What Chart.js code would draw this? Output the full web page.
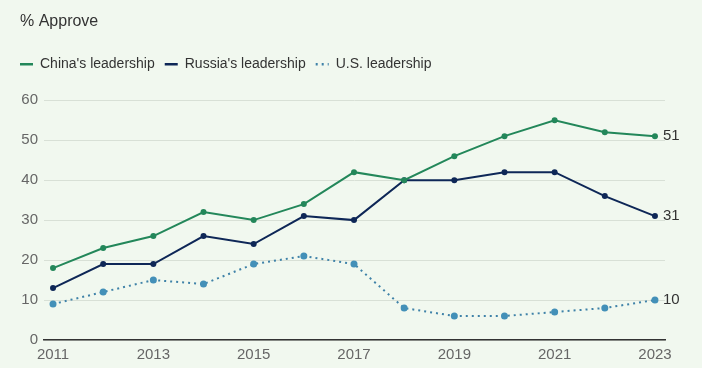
<!DOCTYPE html>
<html>
<head>
<meta charset="utf-8">
<script src="https://cdn.jsdelivr.net/npm/chart.js@4"></script>
<style>
  html, body { margin: 0; padding: 0; background: #f1f8ef; }
  #wrap { width: 702px; height: 368px; }
</style>
</head>
<body>
<div id="wrap"><canvas id="chart" width="702" height="368"></canvas></div>
<script>
const years = [2011, 2012, 2013, 2014, 2015, 2016, 2017, 2018, 2019, 2020, 2021, 2022, 2023];
const tickYears = [2011, 2013, 2015, 2017, 2019, 2021, 2023];
const china = [18, 23, 26, 32, 30, 34, 42, 40, 46, 51, 55, 52, 51];
const russia = [13, 19, 19, 26, 24, 31, 30, 40, 40, 42, 42, 36, 31];
const us = [9, 12, 15, 14, 19, 21, 19, 8, 6, 6, 7, 8, 10];

const textColor = "#333";
const tickColor = "#666";
const fontFamily = "'Liberation Sans', Arial, sans-serif";

function pts(vals) {
  return vals.map((v, i) => ({ x: years[i], y: v }));
}

// labels at the end of each line
const endLabels = {
  id: "endLabels",
  afterDatasetsDraw(chart) {
    const ctx = chart.ctx;
    ctx.save();
    ctx.font = "15px " + fontFamily;
    ctx.fillStyle = textColor;
    ctx.textBaseline = "middle";
    chart.data.datasets.forEach((ds, i) => {
      const meta = chart.getDatasetMeta(i);
      const last = meta.data[meta.data.length - 1];
      ctx.fillText(ds.data[ds.data.length - 1].y, last.x + 8, last.y);
    });
    ctx.restore();
  }
};

// extra room under the legend, and legend flush with the title
const legendTweak = {
  id: "legendTweak",
  beforeInit(chart) {
    const lg = chart.legend;
    const origFit = lg.fit;
    lg.fit = function () {
      origFit.call(lg);
      this.height += 19;
    };
    const origDraw = lg.draw;
    lg.draw = function () {
      this.left -= 10;
      origDraw.call(lg);
      this.left += 10;
    };
  }
};

new Chart(document.getElementById("chart"), {
  type: "line",
  data: {
    datasets: [
      {
        label: "China's leadership",
        data: pts(china),
        borderColor: "#23875a",
        backgroundColor: "#23875a",
        borderWidth: 2,
        pointRadius: 3,
        pointBorderWidth: 0
      },
      {
        label: "Russia's leadership",
        data: pts(russia),
        borderColor: "#0e2757",
        backgroundColor: "#0e2757",
        borderWidth: 2,
        pointRadius: 3,
        pointBorderWidth: 0
      },
      {
        label: "U.S. leadership",
        data: pts(us),
        borderColor: "#3f82a8",
        backgroundColor: "#4390b8",
        borderWidth: 2,
        borderDash: [2, 4],
        pointRadius: 3.5,
        pointBorderWidth: 0
      }
    ]
  },
  options: {
    responsive: false,
    animation: false,
    layout: { padding: { left: 20, right: 37, top: 0, bottom: -2 } },
    plugins: {
      title: {
        display: true,
        text: "% Approve",
        align: "start",
        color: textColor,
        font: { family: fontFamily, size: 16, weight: "normal" },
        padding: { top: 12, bottom: 16 }
      },
      legend: {
        position: "top",
        align: "start",
        labels: {
          usePointStyle: true,
          pointStyleWidth: 13,
          color: textColor,
          padding: 10,
          font: { family: fontFamily, size: 14 },
          generateLabels: chart => chart.data.datasets.map((ds, i) => ({
            text: ds.label,
            datasetIndex: i,
            pointStyle: "line",
            strokeStyle: ds.borderColor,
            fillStyle: ds.borderColor,
            lineWidth: 2.5,
            lineDash: ds.borderDash || [],
            fontColor: textColor,
            hidden: false
          }))
        }
      },
      tooltip: { enabled: false }
    },
    scales: {
      x: {
        type: "linear",
        min: 2010.82,
        max: 2023.2,
        afterBuildTicks: scale => { scale.ticks = tickYears.map(v => ({ value: v })); },
        grid: { display: false, drawTicks: false },
        border: { display: true, color: "#333", width: 1.5 },
        ticks: {
          color: tickColor,
          padding: 6,
          font: { family: fontFamily, size: 15 },
          callback: v => String(v)
        }
      },
      y: {
        min: 0,
        max: 60,
        afterFit: scale => { scale.width = 24; },
        ticks: {
          stepSize: 10,
          color: tickColor,
          padding: 6,
          font: { family: fontFamily, size: 15 }
        },
        grid: { color: "#d8e0d6", drawTicks: false },
        border: { display: false }
      }
    }
  },
  plugins: [endLabels, legendTweak]
});
</script>
</body>
</html>
